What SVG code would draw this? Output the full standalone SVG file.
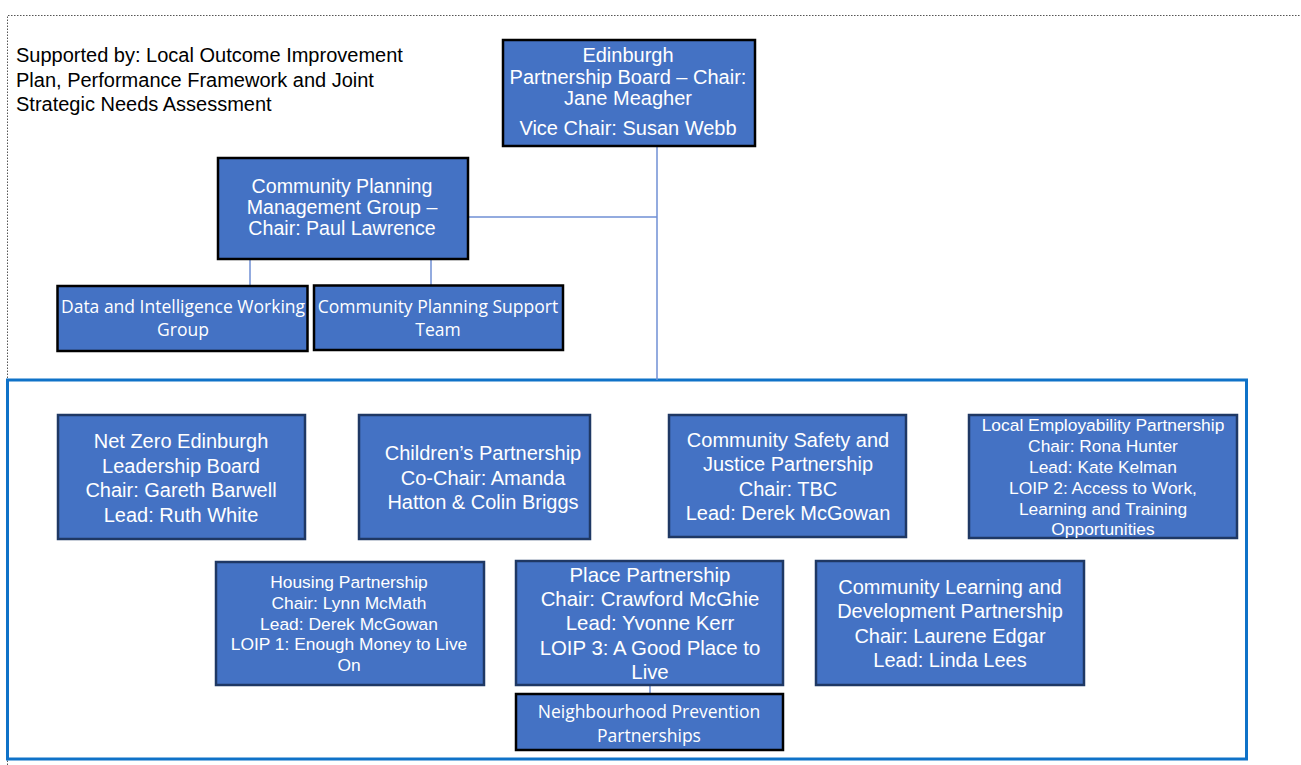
<svg xmlns="http://www.w3.org/2000/svg" width="1301" height="765" viewBox="0 0 1301 765">
<style>
.box{fill:#4472c4;stroke:#1f3864;stroke-width:2.5}
.bk{fill:#4472c4;stroke:#000;stroke-width:2.5}
.t{font-family:"Liberation Sans",Arial,sans-serif;fill:#fff;text-anchor:middle}
.c{font-family:"Open Sans","Noto Sans",sans-serif;fill:#fff;text-anchor:middle;font-size:17.5px}
.s20{font-size:20px}.s19{font-size:19.6px}.s17{font-size:17.4px}
.con{stroke:#6f8fd4;stroke-width:1.5;fill:none}
</style>
<rect x="0" y="0" width="1301" height="765" fill="#fff"/>
<path d="M7.5 765 V15.5 H1301" fill="none" stroke="#555" stroke-width="1" stroke-dasharray="1.5 1.5"/>
<g font-family="'Liberation Sans',Arial,sans-serif" font-size="20" fill="#000">
<text x="16" y="62">Supported by: Local Outcome Improvement</text>
<text x="16" y="87">Plan, Performance Framework and Joint</text>
<text x="16" y="111">Strategic Needs Assessment</text>
</g>
<rect x="7.5" y="380" width="1239" height="379" fill="none" stroke="#0f72c8" stroke-width="3"/>
<g id="connectors">
<path class="con" d="M657 147 V380"/>
<path class="con" d="M469 217 H657"/>
<path class="con" d="M250 260 V285"/>
<path class="con" d="M431 260 V285"/>
<path class="con" d="M650 686 V693"/>
</g>
<g id="epb">
<rect class="bk" x="503" y="40" width="252" height="106"/>
<text class="t s20" x="628" y="62">Edinburgh</text>
<text class="t s20" x="628" y="84">Partnership Board – Chair:</text>
<text class="t s20" x="628" y="105">Jane Meagher</text>
<text class="t s20" x="628" y="135">Vice Chair: Susan Webb</text>
</g>
<g id="cpmg">
<rect class="bk" x="218" y="158" width="250" height="101"/>
<text class="t s19" x="342" y="193">Community Planning</text>
<text class="t s19" x="342" y="214">Management Group –</text>
<text class="t s19" x="342" y="235">Chair: Paul Lawrence</text>
</g>
<g id="diwg">
<rect class="bk" x="57.5" y="286" width="250" height="65"/>
<text class="c" x="183" y="313">Data and Intelligence Working</text>
<text class="c" x="183" y="336">Group</text>
</g>
<g id="cpst">
<rect class="bk" x="314" y="285.5" width="249" height="64.5"/>
<text class="c" x="438" y="313">Community Planning Support</text>
<text class="c" x="438" y="336">Team</text>
</g>
<g id="netzero">
<rect class="box" x="58" y="415" width="247" height="124"/>
<text class="t s20" x="181" y="448">Net Zero Edinburgh</text>
<text class="t s20" x="181" y="473">Leadership Board</text>
<text class="t s20" x="181" y="497">Chair: Gareth Barwell</text>
<text class="t s20" x="181" y="522">Lead: Ruth White</text>
</g>
<g id="children">
<rect class="box" x="359" y="415" width="231" height="124"/>
<text class="t s20" x="483" y="460">Children’s Partnership</text>
<text class="t s20" x="483" y="485">Co-Chair: Amanda</text>
<text class="t s20" x="483" y="509">Hatton &amp; Colin Briggs</text>
</g>
<g id="safety">
<rect class="box" x="669" y="415" width="237" height="122"/>
<text class="t s20" x="788" y="447">Community Safety and</text>
<text class="t s20" x="788" y="471">Justice Partnership</text>
<text class="t s20" x="788" y="496">Chair: TBC</text>
<text class="t s20" x="788" y="520">Lead: Derek McGowan</text>
</g>
<g id="employability">
<rect class="box" x="969" y="415" width="268" height="123"/>
<text class="t s17" x="1103" y="431">Local Employability Partnership</text>
<text class="t s17" x="1103" y="452">Chair: Rona Hunter</text>
<text class="t s17" x="1103" y="473">Lead: Kate Kelman</text>
<text class="t s17" x="1103" y="494">LOIP 2: Access to Work,</text>
<text class="t s17" x="1103" y="515">Learning and Training</text>
<text class="t s17" x="1103" y="535">Opportunities</text>
</g>
<g id="housing">
<rect class="box" x="216" y="562" width="268" height="123"/>
<text class="t s17" x="349" y="588">Housing Partnership</text>
<text class="t s17" x="349" y="609">Chair: Lynn McMath</text>
<text class="t s17" x="349" y="630">Lead: Derek McGowan</text>
<text class="t s17" x="349" y="650">LOIP 1: Enough Money to Live</text>
<text class="t s17" x="349" y="671">On</text>
</g>
<g id="place">
<rect class="box" x="516" y="561" width="267" height="124"/>
<text class="t" font-size="20.4" x="650" y="582">Place Partnership</text>
<text class="t" font-size="20.4" x="650" y="606">Chair: Crawford McGhie</text>
<text class="t" font-size="20.4" x="650" y="630">Lead: Yvonne Kerr</text>
<text class="t" font-size="20.4" x="650" y="655">LOIP 3: A Good Place to</text>
<text class="t" font-size="20.4" x="650" y="679">Live</text>
</g>
<g id="neighbourhood">
<rect class="bk" x="516" y="694" width="267" height="56"/>
<text class="c" x="649" y="718">Neighbourhood Prevention</text>
<text class="c" x="649" y="742">Partnerships</text>
</g>
<g id="cld">
<rect class="box" x="816" y="561" width="268" height="124"/>
<text class="t s20" x="950" y="594">Community Learning and</text>
<text class="t s20" x="950" y="618">Development Partnership</text>
<text class="t s20" x="950" y="643">Chair: Laurene Edgar</text>
<text class="t s20" x="950" y="667">Lead: Linda Lees</text>
</g>
</svg>
